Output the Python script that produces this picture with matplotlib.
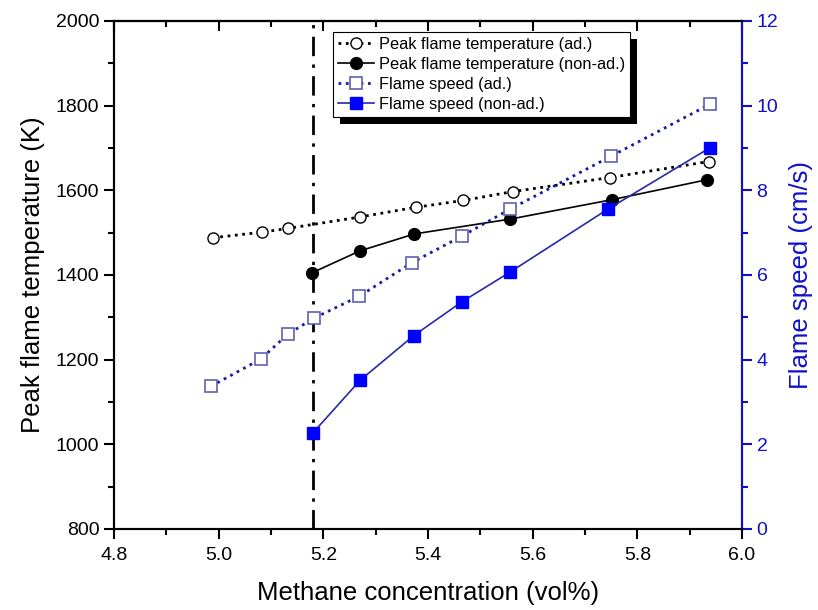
import matplotlib
matplotlib.use("Agg")
import matplotlib.pyplot as plt
from matplotlib.ticker import MultipleLocator, NullFormatter
from matplotlib.patches import Rectangle

plt.rcParams['font.family'] = ['Liberation Sans', 'DejaVu Sans']

# Peak flame temperature, adiabatic
x_temp_ad = [4.989, 5.082, 5.132, 5.270, 5.377, 5.467, 5.562, 5.747, 5.936]
temp_ad = [1488, 1501, 1510, 1537, 1560, 1576, 1597, 1630, 1668]

# Peak flame temperature, non-adiabatic
x_temp_nad = [5.178, 5.270, 5.374, 5.557, 5.752, 5.933]
temp_nad = [1405, 1457, 1497, 1532, 1578, 1625]

# Flame speed, adiabatic
x_speed_ad = [4.985, 5.080, 5.133, 5.182, 5.269, 5.369, 5.465, 5.556, 5.749, 5.938]
speed_ad = [3.37, 4.01, 4.61, 4.98, 5.50, 6.29, 6.92, 7.55, 8.80, 10.03]

# Flame speed, non-adiabatic
x_speed_nad = [5.180, 5.270, 5.373, 5.464, 5.557, 5.743, 5.938]
speed_nad = [2.27, 3.51, 4.57, 5.36, 6.07, 7.55, 9.00]

# Flammability limit marker
x_limit = 5.18

blue_axis = '#1010C8'
blue_line = '#2828A8'
blue_dot = '#1A1AA0'

fig = plt.figure(figsize=(8.18, 6.10), dpi=100)
ax = fig.add_axes([0.1394, 0.1328, 0.9071 - 0.1394, 0.9656 - 0.1328])
ax2 = ax.twinx()

ax.axvline(x_limit, color='black', lw=2.0, ls=(0, (7, 3, 1.2, 3)), zorder=1)

l1, = ax.plot(x_temp_ad, temp_ad, ls=':', lw=2.0, color='black',
              marker='o', ms=8, mfc='white', mec='black', mew=1.0,
              label='Peak flame temperature (ad.)', zorder=3)
l2, = ax.plot(x_temp_nad, temp_nad, ls='-', lw=1.2, color='black',
              marker='o', ms=8.5, mfc='black', mec='black',
              label='Peak flame temperature (non-ad.)', zorder=3)
l3, = ax2.plot(x_speed_ad, speed_ad, ls=':', lw=2.0, color=blue_dot,
               marker='s', ms=8, mfc='white', mec='#6060B0', mew=1.2,
               label='Flame speed (ad.)', zorder=3)
l4, = ax2.plot(x_speed_nad, speed_nad, ls='-', lw=1.2, color=blue_line,
               marker='s', ms=8, mfc='#0000FF', mec='#0000FF',
               label='Flame speed (non-ad.)', zorder=3)

ax.set_xlim(4.8, 6.0)
ax.set_ylim(800, 2000)
ax2.set_ylim(0, 12)

ax.xaxis.set_major_locator(MultipleLocator(0.2))
ax.xaxis.set_minor_locator(MultipleLocator(0.1))
ax.yaxis.set_major_locator(MultipleLocator(200))
ax.yaxis.set_minor_locator(MultipleLocator(100))
ax2.yaxis.set_major_locator(MultipleLocator(2))
ax2.yaxis.set_minor_locator(MultipleLocator(1))
ax.xaxis.set_major_formatter(plt.FuncFormatter(lambda v, p: f'{v:.1f}'))

for a in (ax, ax2):
    for s in a.spines.values():
        s.set_linewidth(1.5)
ax2.spines['right'].set_color(blue_axis)

ax.tick_params(axis='x', which='both', direction='out', top=False, labelsize=14,
               width=1.5, pad=6)
ax.tick_params(axis='x', which='major', length=7)
ax.tick_params(axis='x', which='minor', length=4)
ax.tick_params(axis='y', which='both', direction='out', labelsize=14, width=1.5)
ax.tick_params(axis='y', which='major', length=7)
ax.tick_params(axis='y', which='minor', length=4)
ax2.tick_params(axis='y', which='both', direction='out', labelsize=14, width=1.5,
                color=blue_axis, labelcolor=blue_axis)
ax2.tick_params(axis='y', which='major', length=7)
ax2.tick_params(axis='y', which='minor', length=4)

# top axis: inward ticks, no labels
top = ax.secondary_xaxis('top')
top.xaxis.set_major_locator(MultipleLocator(0.2))
top.xaxis.set_minor_locator(MultipleLocator(0.1))
top.xaxis.set_major_formatter(NullFormatter())
top.tick_params(axis='x', which='both', direction='in', width=1.5)
top.tick_params(axis='x', which='major', length=7)
top.tick_params(axis='x', which='minor', length=4)
top.spines['top'].set_linewidth(1.5)

ax.set_xlabel('Methane concentration (vol%)', fontsize=18.5, labelpad=12)
ax.set_ylabel('Peak flame temperature (K)', fontsize=18.5, labelpad=8)
ax2.set_ylabel('Flame speed (cm/s)', fontsize=18.5, color=blue_axis, labelpad=8)

# legend with offset drop shadow
leg = ax2.legend(handles=[l1, l2, l3, l4], loc='upper left',
                 bbox_to_anchor=(0.349, 0.978), fontsize=11.8,
                 frameon=True, fancybox=False, shadow=False, framealpha=1,
                 handlelength=2.2, handletextpad=0.3, borderpad=0.3,
                 labelspacing=0.3, borderaxespad=0)
leg.get_frame().set_edgecolor('black')
leg.get_frame().set_facecolor('white')
leg.get_frame().set_linewidth(0.8)
leg.set_zorder(10)

fig.canvas.draw()
bb = leg.get_window_extent().transformed(fig.transFigure.inverted())
shadow = Rectangle((bb.x0 + 7 / 818, bb.y0 - 7 / 610), bb.width, bb.height,
                   transform=fig.transFigure, facecolor='black', edgecolor='none',
                   zorder=9)
ax2.add_artist(shadow)
shadow.set_clip_on(False)

fig.savefig('out.png', dpi=100)
